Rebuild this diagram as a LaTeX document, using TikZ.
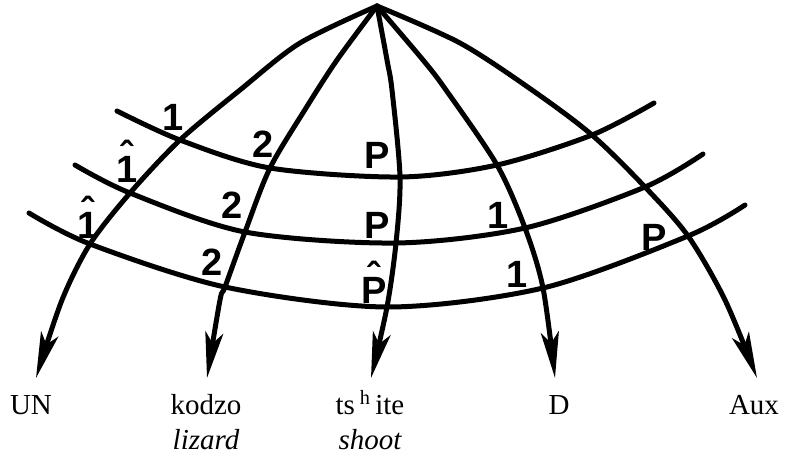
\documentclass[tikz,border=0pt]{standalone}
\usepackage{fontspec}
\setmainfont{Liberation Serif}
\newfontfamily\labfont{Liberation Sans}
\usetikzlibrary{arrows.meta}
\newcommand\hatlab[1]{\ooalign{#1\cr\hidewidth\raisebox{0.36em}{\char"02C6}\hidewidth\cr}}
\begin{document}
\begin{tikzpicture}[x=1pt,y=-1pt,
  rel/.style={line width=5pt, line cap=round, line join=round},
  arr/.style={rel, -{Stealth[length=46pt,width=18pt,inset=11pt]}},
  lab/.style={inner sep=0pt, anchor=base, font=\labfont\fontsize{38}{38}\selectfont\bfseries},
  word/.style={inner sep=0pt, anchor=base, font=\fontsize{29}{29}\selectfont}]
\useasboundingbox (0,0) rectangle (787,461);

% root
\coordinate (root) at (377,6);
% crossings: stratum a (top), b (middle), c (bottom); lines 1..5
\coordinate (ca1) at (180,140); \coordinate (cb1) at (130,193); \coordinate (cc1) at (90,244);
\coordinate (ca2) at (270,168); \coordinate (cb2) at (245,232); \coordinate (cc2) at (225,287);
\coordinate (ca3) at (400,177); \coordinate (cb3) at (396,243); \coordinate (cc3) at (387,307);
\coordinate (ca4) at (497,165); \coordinate (cb4) at (525,228); \coordinate (cc4) at (543,288);
\coordinate (ca5) at (592,135); \coordinate (cb5) at (645,187); \coordinate (cc5) at (688,236);
% stratum ends
\coordinate (la) at (117,111); \coordinate (ra) at (654,103);
\coordinate (lb) at (75,165);  \coordinate (rb) at (703,154);
\coordinate (lc) at (29,213);  \coordinate (rc) at (745,205);
% intermediate points of the lines
\coordinate (p1a) at (300,43); \coordinate (p1b) at (240,90); \coordinate (p1c) at (62,300);
\coordinate (p2a) at (337,60); \coordinate (p2b) at (306,108); \coordinate (p2c) at (220,300);
\coordinate (p3a) at (387,60); \coordinate (p3b) at (392,90);
\coordinate (p4a) at (423,60); \coordinate (p4b) at (446,90);
\coordinate (p5a) at (460,43); \coordinate (p5b) at (532,90); \coordinate (p5c) at (725,300);
% tips
\coordinate (t1) at (36,378); \coordinate (t2) at (207,378); \coordinate (t3) at (371,378);
\coordinate (t4) at (555,378); \coordinate (t5) at (757,378);

% strata
\draw[rel] plot[smooth] coordinates {(la) (ca1) (ca2) (ca3) (ca4) (ca5) (ra)};
\draw[rel] plot[smooth] coordinates {(lb) (cb1) (cb2) (cb3) (cb4) (cb5) (rb)};
\draw[rel] plot[smooth] coordinates {(lc) (cc1) (cc2) (cc3) (cc4) (cc5) (rc)};

% arcs from root
\draw[arr] plot[smooth] coordinates {(root) (p1a) (p1b) (ca1) (cb1) (cc1) (p1c) (t1)};
\draw[arr] plot[smooth] coordinates {(root) (p2a) (p2b) (ca2) (cb2) (cc2) (p2c) (t2)};
\draw[arr] plot[smooth] coordinates {(root) (p3a) (p3b) (ca3) (cb3) (cc3) (t3)};
\draw[arr] plot[smooth] coordinates {(root) (p4a) (p4b) (ca4) (cb4) (cc4) (t4)};
\draw[arr] plot[smooth] coordinates {(root) (p5a) (p5b) (ca5) (cb5) (cc5) (p5c) (t5)};

% relation labels
\node[lab] (la1) at (173,130) {1};
\node[lab] (lb1) at (127,182) {\hatlab{1}};
\node[lab] (lc1) at (88,238) {\hatlab{1}};
\node[lab] (la2) at (263,157) {2};
\node[lab] (lb2) at (232,218) {2};
\node[lab] (lc2) at (212,275) {2};
\node[lab] (la3) at (377,168) {P};
\node[lab] (lb3) at (377,238) {P};
\node[lab] (lc3) at (374,303) {\hatlab{P}};
\node[lab] (lb4) at (498,228) {1};
\node[lab] (lc4) at (517,287) {1};
\node[lab] (lc5) at (654,250) {P};

% words
\node[word] (w1) at (31,414) {UN};
\node[word] (w2) at (206,414) {kodzo};
\node[word] (w3) at (370,414) {ts\,\textsuperscript{h}\,ite};
\node[word] (w4) at (559,414) {D};
\node[word] (w5) at (754,414) {Aux};
\node[word] (g2) at (206,449) {\itshape lizard};
\node[word] (g3) at (370,449) {\itshape shoot};
\end{tikzpicture}
\end{document}
